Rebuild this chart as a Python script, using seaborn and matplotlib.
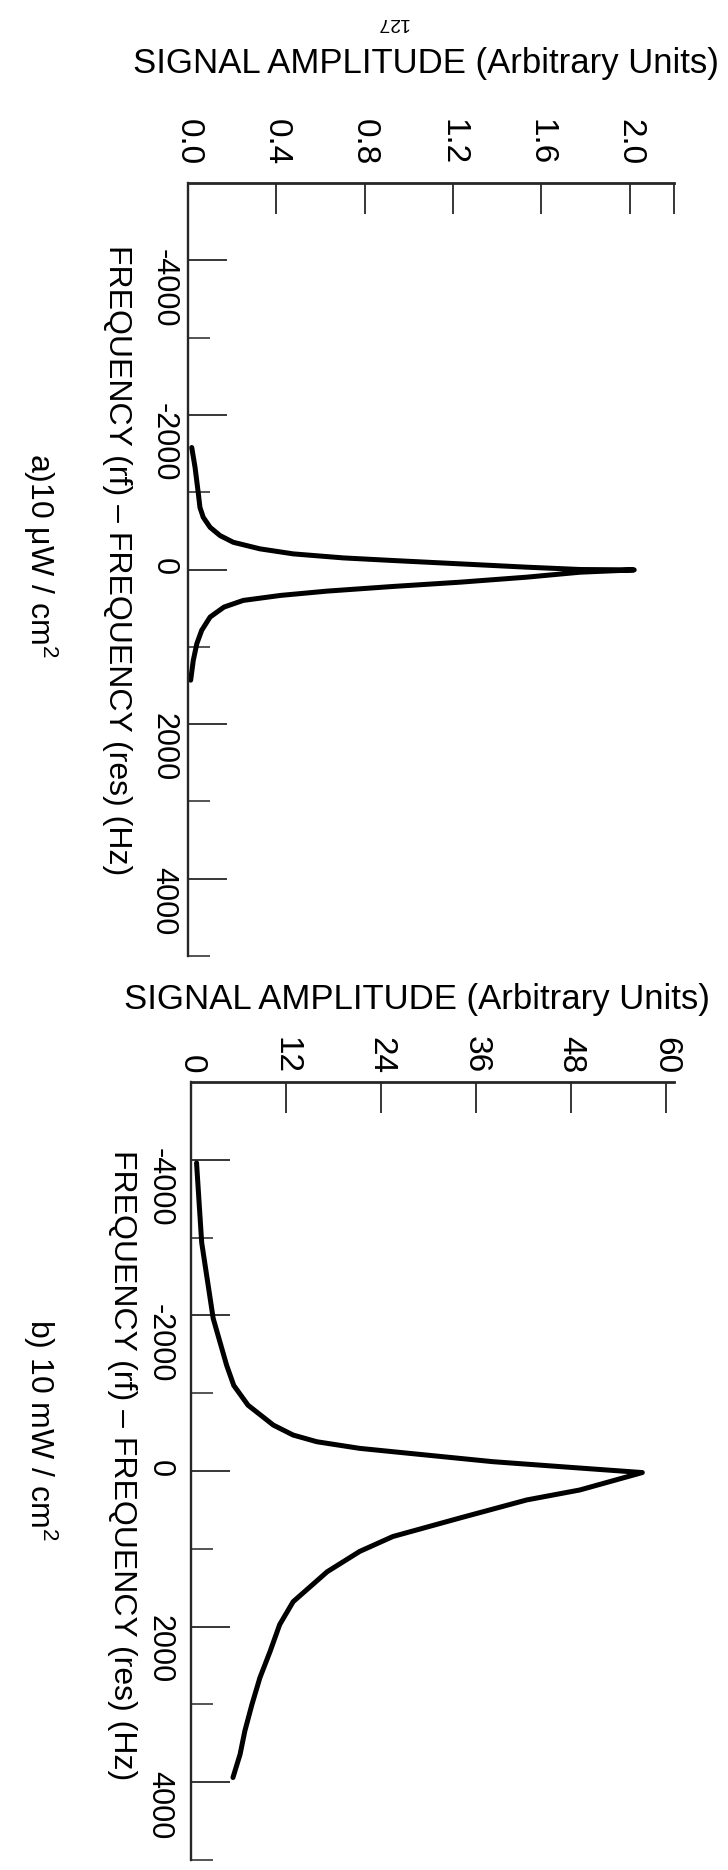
import numpy as np
import pandas as pd
import matplotlib
matplotlib.use('Agg')
import matplotlib.pyplot as plt
import seaborn as sns

# ---- data (frequency offset in Hz, amplitude) ----
freq_a = [-1578, -1320, -977, -804, -675, -546, -439, -352, -267, -202, -150, -116,
          -73, -30, 0, 5, 35, 99, 164, 219, 280, 335, 400, 486, 615, 787, 959, 1174, 1432]
amp_a = [0.017, 0.032, 0.047, 0.054, 0.069, 0.100, 0.145, 0.205, 0.326, 0.477, 0.703, 0.93,
         1.232, 1.534, 1.775, 2.02, 1.775, 1.534, 1.232, 0.93, 0.628, 0.42, 0.25, 0.163,
         0.10, 0.062, 0.04, 0.024, 0.012]

freq_b = [-3960, -2936, -1962, -1359, -1100, -846, -590, -462, -376, -291, -248, -120,
          -38, 20, 244, 372, 603, 842, 1034, 1295, 1680, 1974, 2316, 2658, 3000, 3342,
          3641, 3940]
amp_b = [0.7, 1.35, 2.8, 4.5, 5.4, 7.2, 10.4, 12.9, 15.9, 21.3, 25.5, 38.1,
         49.1, 57.0, 49.1, 42.4, 34.0, 25.5, 21.3, 17.2, 12.9, 11.2, 10.0, 8.7, 7.7, 6.8,
         6.2, 5.3]

amp_ticks_a = [0.0, 0.4, 0.8, 1.2, 1.6, 2.0]
amp_ticks_b = [0, 12, 24, 36, 48, 60]
freq_major = [-4000, -2000, 0, 2000, 4000]
freq_minor = [-3000, -1000, 1000, 3000, 5000]

W, H = 728, 1870

sns.set_style('ticks')
plt.rcParams['font.family'] = ['Liberation Sans', 'DejaVu Sans']
plt.rcParams['mathtext.fontset'] = 'custom'
plt.rcParams['mathtext.rm'] = 'Liberation Sans'
plt.rcParams['mathtext.it'] = 'Liberation Sans:italic'

fig = plt.figure(figsize=(W / 100, H / 100), dpi=100)


def px_axes(left, top, right, bottom):
    return fig.add_axes([left / W, 1 - bottom / H, (right - left) / W, (bottom - top) / H])


def style_axis(ax, xmax, xticks, xlabels, xpad, ypad):
    ax.set_xlim(0, xmax)
    ax.set_ylim(5000, -5000)
    sns.despine(ax=ax, top=False, right=True, bottom=True, left=False)
    ax.spines['top'].set_linewidth(2.0)
    ax.spines['left'].set_linewidth(1.7)
    ax.set_xticks(xticks)
    ax.set_xticklabels(xlabels)
    ax.set_yticks(freq_major)
    ax.set_yticklabels([str(v) for v in freq_major])
    ax.set_yticks(freq_minor, minor=True)
    ax.xaxis.tick_top()
    ax.tick_params(axis='x', which='both', direction='in', length=22, width=1.1,
                   top=True, bottom=False, labeltop=True, labelbottom=False,
                   labelrotation=-90, labelsize=24, pad=xpad, colors='black')
    ax.tick_params(axis='y', which='major', direction='in', length=28, width=1.1,
                   labelrotation=-90, labelsize=22, pad=ypad, colors='black')
    ax.tick_params(axis='y', which='minor', direction='in', length=16, width=1.1)
    ax.set_xlabel('')
    ax.set_ylabel('')


# ---- panel a ----
ax1 = px_axes(188, 183, 674, 956)
df_a = pd.DataFrame({'freq': freq_a, 'amp': amp_a})
sns.lineplot(data=df_a, x='amp', y='freq', sort=False, estimator=None,
             color='black', linewidth=3.6, ax=ax1)
style_axis(ax1, 2.2, amp_ticks_a, ['%.1f' % v for v in amp_ticks_a], 13, 7)
ax1.set_xticks([2.2], minor=True)

# ---- panel b ----
ax2 = px_axes(191, 1082, 674, 1860)
df_b = pd.DataFrame({'freq': freq_b, 'amp': amp_b})
sns.lineplot(data=df_b, x='amp', y='freq', sort=False, estimator=None,
             color='black', linewidth=3.6, ax=ax2)
style_axis(ax2, 61, amp_ticks_b, [str(v) for v in amp_ticks_b], 6, 12)

# ---- texts ----
def ftext(x, y, s, **kw):
    fig.text(x / W, 1 - y / H, s, ha='center', va='center', color='black', **kw)

ftext(392, 22, '127', rotation=180, fontsize=14)
ftext(426, 63, 'SIGNAL AMPLITUDE (Arbitrary Units)', fontsize=25)
ftext(417, 1000, 'SIGNAL AMPLITUDE (Arbitrary Units)', fontsize=25)
ftext(117, 560, 'FREQUENCY (rf) \u2013 FREQUENCY (res) (Hz)', rotation=-90, fontsize=23)
ftext(122, 1465, 'FREQUENCY (rf) \u2013 FREQUENCY (res) (Hz)', rotation=-90, fontsize=23)
ftext(40, 555, 'a)10 \u03bcW / cm$^{2}$', rotation=-90, fontsize=23)
ftext(40, 1430, 'b) 10 mW / cm$^{2}$', rotation=-90, fontsize=23)

fig.savefig('out.png', dpi=100, facecolor='white')
